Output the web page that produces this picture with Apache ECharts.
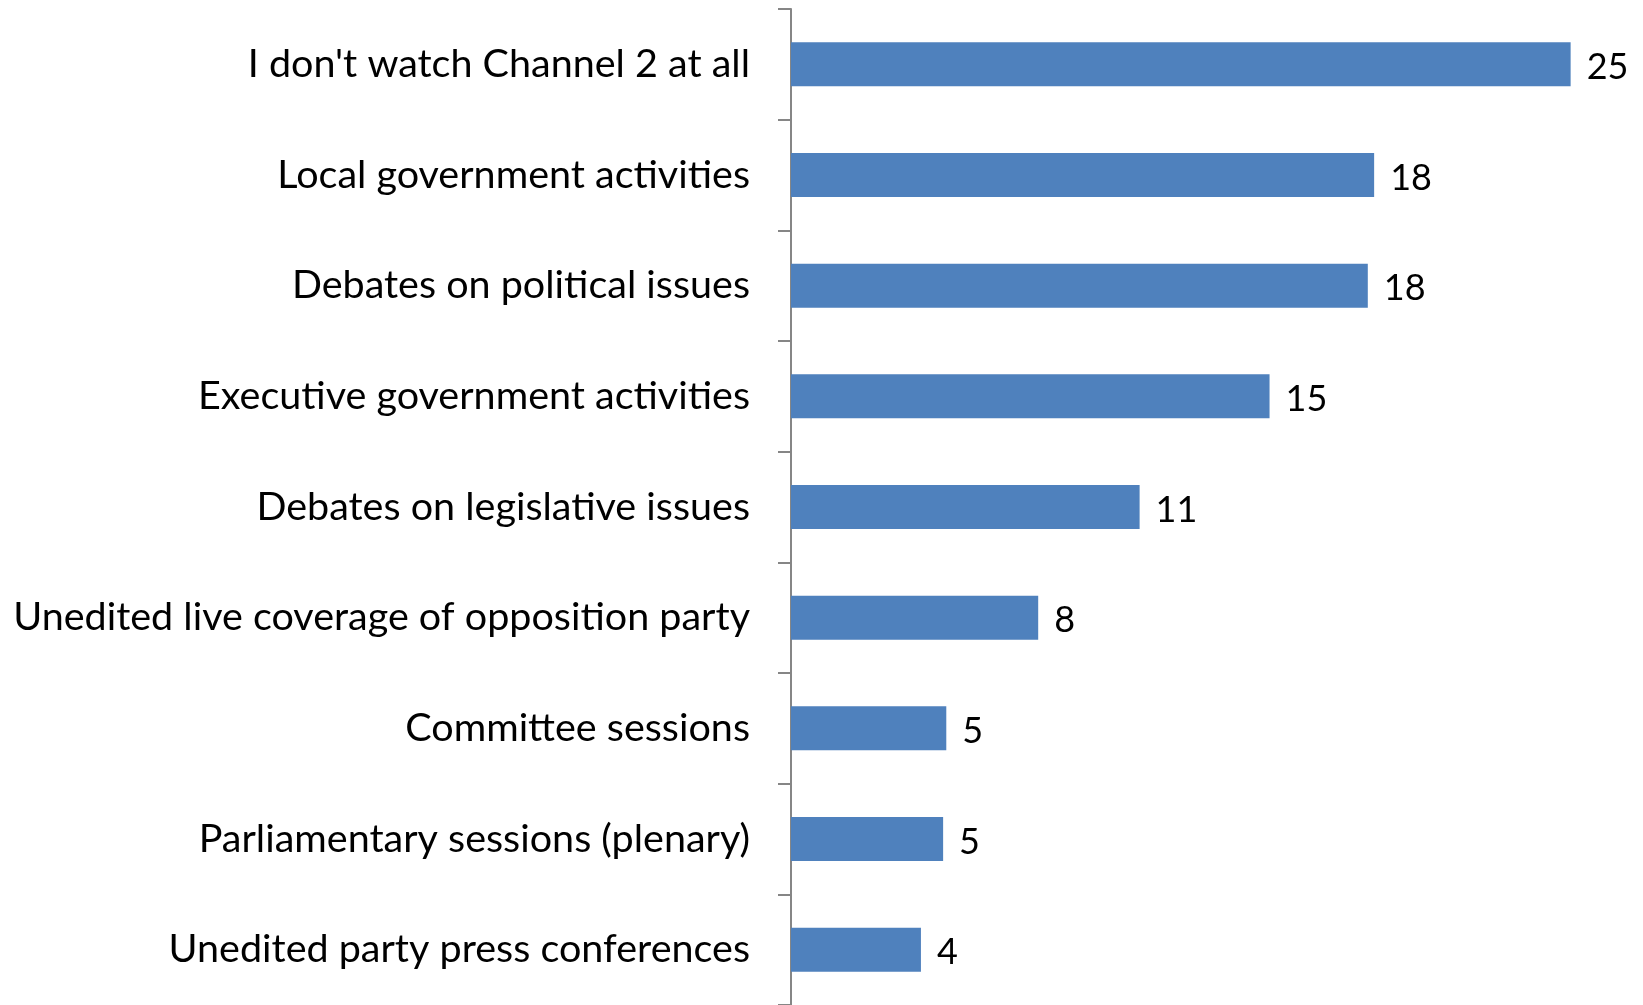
<!DOCTYPE html>
<html>
<head>
<meta charset="utf-8">
<script src="https://cdn.jsdelivr.net/npm/echarts@6/dist/echarts.min.js"></script>
<style>
html,body{margin:0;padding:0;background:#fff;}
#chart{width:1643px;height:1005px;}
</style>
</head>
<body>
<div id="chart"></div>
<script>
const categories = [
  "I don't watch Channel 2 at all",
  "Local government activities",
  "Debates on political issues",
  "Executive government activities",
  "Debates on legislative issues",
  "Unedited live coverage of opposition party",
  "Committee sessions",
  "Parliamentary sessions (plenary)",
  "Unedited party press conferences"
];
const values = [24.6, 18.4, 18.2, 15.1, 11.0, 7.8, 4.9, 4.8, 4.1];

const chart = echarts.init(document.getElementById('chart'));
chart.setOption({
  animation: false,
  grid: {left: 791, top: 9, bottom: 0, right: 28, containLabel: false},
  xAxis: {
    type: 'value', min: 0, max: 26,
    show: false
  },
  yAxis: {
    type: 'category',
    data: categories,
    inverse: true,
    axisLine: {show: true, lineStyle: {color: '#868686', width: 2}},
    axisTick: {show: true, length: 13, lineStyle: {color: '#868686', width: 2}},
    axisLabel: {
      color: '#000', fontFamily: 'Lato', fontSize: 39.5, margin: 41,
      padding: [5, 0, 0, 0]
    }
  },
  series: [{
    type: 'bar',
    data: values,
    barWidth: 44,
    itemStyle: {color: '#4F81BD'},
    label: {
      show: true, position: 'right', distance: 16,
      color: '#000', fontFamily: 'Lato', fontSize: 36,
      offset: [0, 3],
      formatter: p => Math.round(p.value)
    }
  }]
});
</script>
</body>
</html>
